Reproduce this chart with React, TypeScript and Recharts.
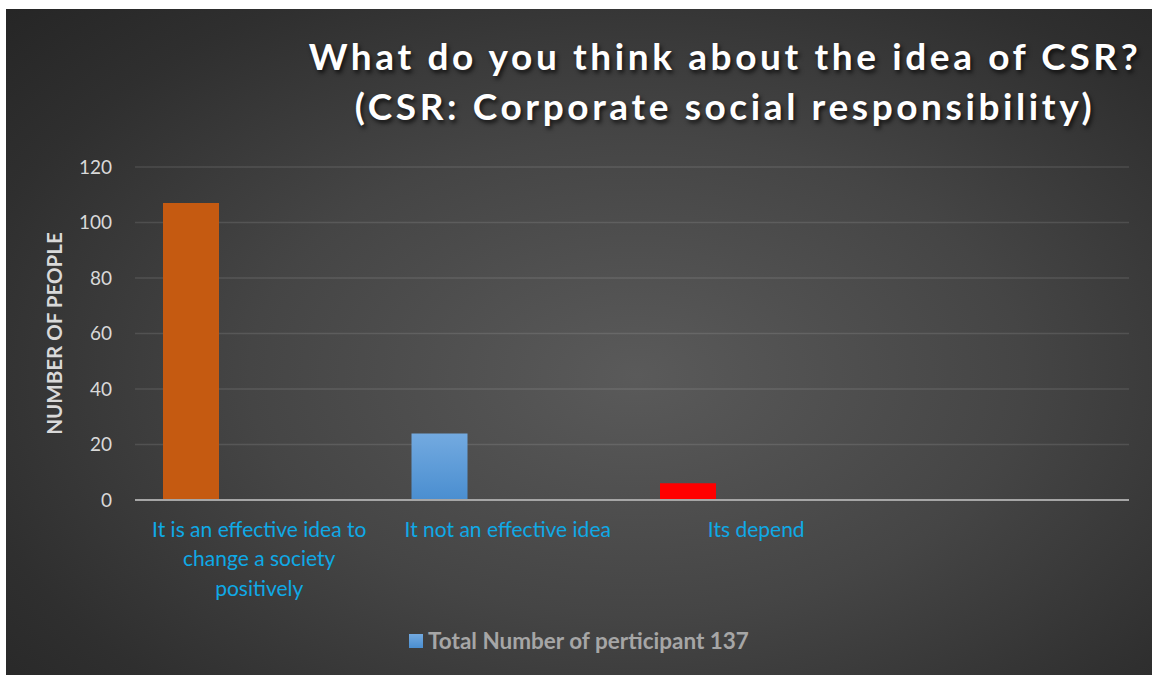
import { BarChart, Bar, XAxis, YAxis, CartesianGrid, Legend, Cell } from 'recharts';

const categories = [
  'It is an effective idea to\nchange a society\npositively',
  'It not an effective idea',
  'Its depend',
  '',
];
const participants = [107, 24, 6, null];
const barColors = ['#c55a11', 'url(#blueFill)', '#ff0000', '#5b9bd5'];
const yTicks = [0, 20, 40, 60, 80, 100, 120];

const seriesName = 'Total Number of perticipant 137';

const data = categories.map((category, i) => ({
  category,
  value: participants[i],
  spacer: null,
}));

const FONT = 'Lato, "Open Sans", sans-serif';

const CategoryTick = (props: any) => {
  const { x, y, payload } = props;
  const lines = String(payload.value).split('\n');
  return (
    <text x={x} y={y} textAnchor="middle" fill="#0fa9e6" fontSize={21} fontFamily={FONT}>
      {lines.map((line, i) => (
        <tspan key={i} x={x} dy={i === 0 ? '0.75em' : 29.5}>
          {line}
        </tspan>
      ))}
    </text>
  );
};

const LegendContent = (props: any) => {
  const items = (props.payload || []).filter((p: any) => p.dataKey === 'value');
  return (
    <div style={{ display: 'flex', justifyContent: 'center' }}>
      {items.map((p: any) => (
        <div key={p.value} style={{ display: 'flex', alignItems: 'center', gap: 5 }}>
          <span style={{ width: 14, height: 14, background: 'linear-gradient(#73aae0, #4a8ed0)' }} />
          <span style={{ color: '#a6a6a6', fontWeight: 700, fontSize: 22.5, fontFamily: FONT }}>
            {p.value}
          </span>
        </div>
      ))}
    </div>
  );
};

export default function App() {
  return (
    <div style={{ width: 1152, height: 675, paddingLeft: 6, paddingTop: 9, boxSizing: 'border-box' }}>
      <style>{'html { overflow: hidden; } body { margin: 0; }'}</style>
      <div
        style={{
          position: 'relative',
          width: 1146,
          height: 666,
          background:
            'radial-gradient(ellipse 75% 80% at 55% 55%, #5a5a5a 0%, #454545 45%, #2f2f2f 80%, #262626 100%)',
          fontFamily: FONT,
        }}
      >
        <div
          style={{
            position: 'absolute',
            left: 284,
            width: 870,
            top: 22,
            textAlign: 'center',
            color: '#ffffff',
            fontWeight: 700,
            fontSize: 37,
            lineHeight: '50px',
            letterSpacing: 3.6,
            textShadow: '2px 3px 4px rgba(0,0,0,0.7)',
            whiteSpace: 'nowrap',
          }}
        >
          What do you think about the idea of CSR?
          <br />
          (CSR: Corporate social responsibility)
        </div>
        <BarChart
          width={1146}
          height={666}
          data={data}
          margin={{ top: 158, right: 23, left: 0, bottom: 75 }}
          barGap={81}
          barSize={56}
          style={{ position: 'absolute', left: 0, top: 0 }}
        >
          <defs>
            <linearGradient id="blueFill" x1="0" y1="0" x2="0" y2="1">
              <stop offset="0%" stopColor="#73aae0" />
              <stop offset="100%" stopColor="#4a8ed0" />
            </linearGradient>
          </defs>
          <CartesianGrid vertical={false} stroke="rgba(255,255,255,0.11)" strokeWidth={1.5} />
          <XAxis
            dataKey="category"
            height={100}
            interval={0}
            tick={<CategoryTick />}
            tickLine={false}
            tickSize={0}
            tickMargin={21}
            axisLine={{ stroke: '#a6a6a6', strokeWidth: 2 }}
          />
          <YAxis
            width={129}
            domain={[0, 120]}
            ticks={yTicks}
            axisLine={false}
            tickLine={false}
            tickSize={0}
            tickMargin={23}
            tick={{ fill: '#d9d9d9', fontSize: 19, fontFamily: FONT }}
            label={{
              value: 'NUMBER OF PEOPLE',
              angle: -90,
              position: 'insideLeft',
              offset: 49,
              style: { textAnchor: 'middle', fill: '#d9d9d9', fontSize: 20.5, fontWeight: 700, fontFamily: FONT },
            }}
          />
          <Legend
            layout="horizontal"
            verticalAlign="middle"
            align="center"
            content={<LegendContent />}
            wrapperStyle={{ position: 'absolute', top: 618, left: 0, width: 1146 }}
          />
          <Bar dataKey="value" name={seriesName} isAnimationActive={false}>
            {data.map((d, i) => (
              <Cell key={i} fill={barColors[i]} />
            ))}
          </Bar>
          <Bar dataKey="spacer" legendType="none" fill="transparent" isAnimationActive={false} />
        </BarChart>
      </div>
    </div>
  );
}
